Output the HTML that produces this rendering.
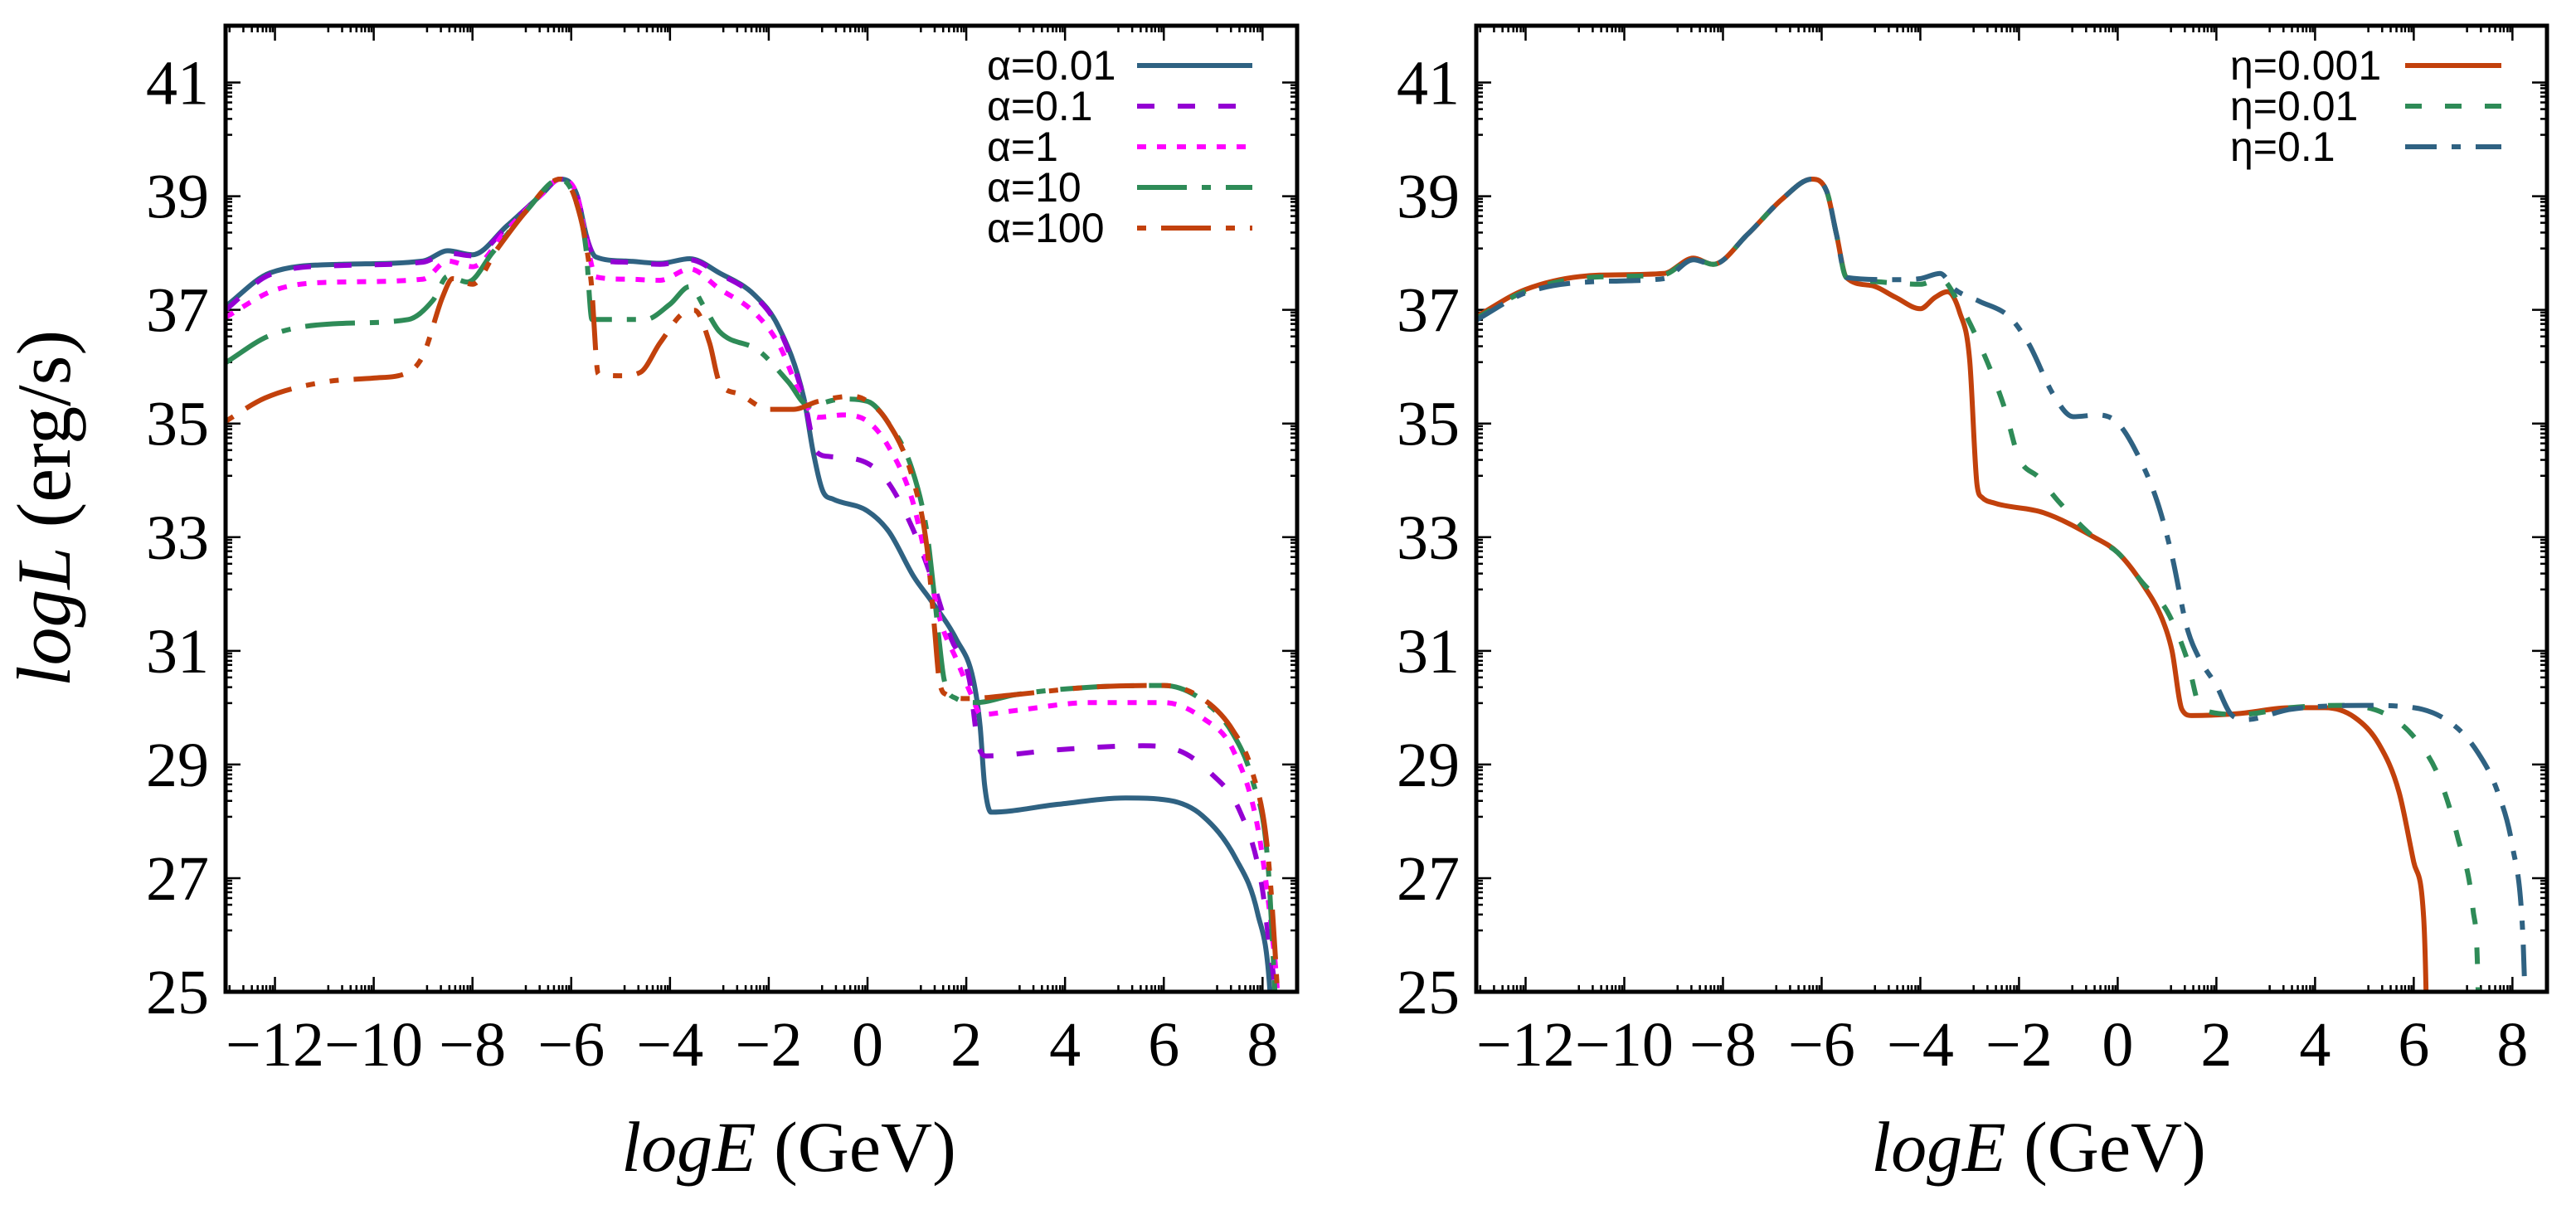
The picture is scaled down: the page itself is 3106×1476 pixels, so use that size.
<!DOCTYPE html>
<html><head><meta charset="utf-8"><style>
html,body{margin:0;padding:0;background:#fff;}
svg{display:block;}
</style></head><body>
<svg id="fig" width="3106" height="1476" viewBox="0 0 3106 1476" xmlns="http://www.w3.org/2000/svg">
<rect width="3106" height="1476" fill="#fff"/>
<g id="left"></g>
<g id="right"></g>
<text transform="translate(84,613) rotate(-90)" text-anchor="middle" font-family="Liberation Serif, serif" font-size="92"><tspan font-style="italic">logL</tspan> (erg/s)</text>
<text x="951" y="1412" text-anchor="middle" font-family="Liberation Serif, serif" font-size="86"><tspan font-style="italic">logE</tspan> (GeV)</text>
<text x="2458" y="1412" text-anchor="middle" font-family="Liberation Serif, serif" font-size="86"><tspan font-style="italic">logE</tspan> (GeV)</text>
</svg>
<script>
// ---- data ----
const xTickLabels = [-12,-10,-8,-6,-4,-2,0,2,4,6,8];
const yTickLabels = [25,27,29,31,33,35,37,39,41];
const alphaNames = ["α=0.01","α=0.1","α=1","α=10","α=100"];
const etaNames = ["η=0.001","η=0.01","η=0.1"];
const a001X = [-13,-12.1,-10.7,-9,-8.5,-8,-7.3,-6.6,-6.23,-5.9,-5.66,-5.5,-4.9,-4.2,-3.6,-3,-2.3,-1.8,-1.29,-1.1,-0.9,-0.7,0,0.43,0.94,1.29,1.8,2.14,2.28,2.37,2.5,3.86,5.23,6.1,6.78,7.46,7.9,8.15,8.2];
const a001Y = [37.06,37.65,37.8,37.86,38.04,37.97,38.48,39.03,39.3,39.06,38.2,37.93,37.86,37.82,37.9,37.65,37.27,36.7,35.45,34.5,33.8,33.67,33.46,33.1,32.3,31.88,31.2,30.5,29.67,28.65,28.16,28.3,28.41,28.37,28.1,27.34,26.38,25,24];
const a01X = [-13,-12.1,-10.7,-9,-8.5,-8,-7.3,-6.6,-6.23,-5.9,-5.66,-5.5,-4.9,-4.2,-3.6,-3,-2.3,-1.8,-1.29,-1.03,-0.77,0,0.43,0.94,1.29,1.7,2.06,2.23,2.4,3.86,5.57,6.26,6.95,7.55,7.98,8.15,8.25,8.3];
const a01Y = [37.0,37.62,37.78,37.84,38.0,37.95,38.46,39.03,39.3,39.06,38.2,37.9,37.84,37.8,37.88,37.63,37.25,36.68,35.45,34.5,34.42,34.3,33.95,33.1,32.3,31.2,30.5,29.4,29.15,29.26,29.33,29.26,28.85,28.16,26.9,25.7,25,24];
const a1X = [-13,-12,-10.7,-9,-8.5,-8,-7.3,-6.6,-6.23,-5.9,-5.66,-5.5,-4.9,-4.2,-3.6,-3,-2.3,-1.8,-1.29,-1,-0.5,0,0.4,0.9,1.2,1.5,1.8,2.1,2.3,3,4.5,6,6.8,7.4,7.9,8.2,8.3,8.35];
const a1Y = [36.87,37.35,37.49,37.54,37.86,37.76,38.41,39.03,39.3,39.06,38.07,37.58,37.54,37.52,37.72,37.37,36.96,36.4,35.39,35.11,35.15,35.04,34.63,33.67,32.57,31.46,30.85,30.23,29.88,29.95,30.09,30.09,29.81,29.26,27.9,25.96,25,24];
const a10X = [-13,-12.1,-10.7,-9.3,-8.8,-8.5,-8.1,-7.6,-6.9,-6.23,-5.9,-5.7,-5.58,-5.3,-4.5,-4,-3.6,-3.3,-3,-2.2,-1.6,-1.2,-0.5,0,0.4,0.9,1.2,1.35,1.45,1.55,1.8,2.2,3,4.5,6,6.8,7.4,7.8,8.1,8.25,8.3];
const a10Y = [36.07,36.55,36.76,36.83,37.17,37.59,37.49,38.0,38.75,39.3,38.9,38.07,36.83,36.83,36.83,37.1,37.41,37.04,36.62,36.28,35.73,35.32,35.43,35.39,35.04,34.2,33.1,32.0,31.19,30.5,30.16,30.09,30.23,30.36,30.39,30.12,29.54,28.71,27.34,25,24];
const a100X = [-13,-12.2,-11,-10,-9.3,-9,-8.6,-8.4,-8,-7.5,-6.9,-6.23,-5.9,-5.6,-5.45,-5,-4.6,-4.2,-3.7,-3.5,-3.2,-3,-2.6,-2,-1.5,-1,-0.3,0,0.4,0.9,1.2,1.35,1.45,1.6,2,3,4.5,6,6.8,7.4,7.8,8.1,8.3,8.35];
const a100Y = [35.04,35.45,35.73,35.8,35.9,36.2,37.24,37.55,37.45,38.07,38.75,39.3,38.9,37.52,35.87,35.84,35.9,36.42,36.96,36.99,36.42,35.73,35.52,35.25,35.25,35.39,35.48,35.39,35.04,34.08,32.84,31.46,30.5,30.23,30.16,30.23,30.36,30.39,30.15,29.6,28.85,27.5,25,24];
const e0001X = [-13,-12,-10.5,-9.2,-8.6,-8.2,-7.5,-6.8,-6.2,-5.9,-5.7,-5.5,-5,-4.5,-4,-3.7,-3.45,-3.2,-3,-2.85,-2.75,-2.5,-1.5,-0.5,0,0.5,0.9,1.1,1.3,1.5,2.5,3.5,4.2,4.8,5.3,5.7,6,6.2,6.25,6.27];
const e0001Y = [36.88,37.36,37.61,37.64,37.91,37.8,38.33,38.95,39.3,39.09,38.33,37.57,37.43,37.22,37.02,37.22,37.32,36.95,36.12,33.91,33.7,33.6,33.43,33.01,32.73,32.18,31.56,31.0,29.97,29.86,29.9,30.0,30.0,29.83,29.35,28.52,27.28,26.31,25,24];
const e001X = [-13,-12,-10.5,-9.2,-8.6,-8.2,-7.5,-6.8,-6.2,-5.9,-5.7,-5.5,-5,-4.5,-4,-3.6,-3.2,-2.8,-2.3,-2,-1.6,-1.2,-0.5,0,0.5,1,1.4,1.7,2.5,3.5,4.5,5.4,6,6.5,6.9,7.2,7.3,7.32];
const e001Y = [36.85,37.33,37.58,37.62,37.9,37.8,38.33,38.95,39.3,39.09,38.33,37.57,37.5,37.47,37.45,37.55,37.09,36.4,35.29,34.39,34.05,33.63,33.01,32.73,32.2,31.7,30.87,29.97,29.88,30.0,30.04,29.9,29.49,28.8,27.69,26.45,25.2,24];
const e01X = [-13,-12,-10.5,-9.2,-8.6,-8.2,-7.5,-6.8,-6.2,-5.9,-5.7,-5.5,-4.5,-4,-3.6,-3.3,-2.8,-2.2,-1.8,-1.3,-0.9,-0.4,0,0.4,0.8,1.1,1.4,1.65,2,2.3,2.6,3.5,5,6,6.8,7.3,7.7,8,8.2,8.25,8.27];
const e01Y = [36.82,37.3,37.5,37.55,37.88,37.8,38.33,38.95,39.3,39.09,38.33,37.57,37.53,37.55,37.64,37.36,37.15,36.88,36.4,35.5,35.12,35.15,35.01,34.46,33.63,32.67,31.42,30.87,30.39,29.88,29.79,29.97,30.04,30.0,29.7,29.21,28.52,27.56,26.17,25,24];

// ---- layout ----
const NS = "http://www.w3.org/2000/svg";
const Y0 = 31, Y1 = 1196, XMIN = -13, XMAX = 8.7, YMIN = 25, YMAX = 42;
const minorF = [0.54,0.68,0.766,0.825,0.876,0.912,0.95,0.977];
function mk(tag, attrs, parent){ const e = document.createElementNS(NS, tag); for (const k in attrs) e.setAttribute(k, attrs[k]); parent.appendChild(e); return e; }

// monotone cubic path through pixel points
function monoPath(P){
  const n = P.length, d = [], m = [];
  for (let i = 0; i < n - 1; i++) d.push((P[i+1][1] - P[i][1]) / (P[i+1][0] - P[i][0]));
  m[0] = d[0]; m[n-1] = d[n-2];
  for (let i = 1; i < n - 1; i++) m[i] = (d[i-1] * d[i] <= 0) ? 0 : (d[i-1] + d[i]) / 2;
  for (let i = 0; i < n - 1; i++) {
    if (d[i] === 0) { m[i] = 0; m[i+1] = 0; continue; }
    const a = m[i] / d[i], b = m[i+1] / d[i], s = a*a + b*b;
    if (s > 9) { const t = 3 / Math.sqrt(s); m[i] = t*a*d[i]; m[i+1] = t*b*d[i]; }
  }
  let s = 'M' + P[0][0].toFixed(1) + ',' + P[0][1].toFixed(1);
  for (let i = 0; i < n - 1; i++) {
    const h = (P[i+1][0] - P[i][0]) / 3;
    s += ' C' + (P[i][0] + h).toFixed(1) + ',' + (P[i][1] + m[i]*h).toFixed(1) + ' ' +
         (P[i+1][0] - h).toFixed(1) + ',' + (P[i+1][1] - m[i+1]*h).toFixed(1) + ' ' +
         P[i+1][0].toFixed(1) + ',' + P[i+1][1].toFixed(1);
  }
  return s;
}

function panel(g, L, R, series, names, legTextX, legLineX0, legLineX1, id){
  const sx = v => L + (v - XMIN) / (XMAX - XMIN) * (R - L);
  const sy = v => Y1 - (v - YMIN) / (YMAX - YMIN) * (Y1 - Y0);
  const clip = mk('clipPath', {id: 'clip' + id}, g);
  mk('rect', {x: L, y: Y0, width: R - L, height: Y1 - Y0}, clip);
  const tg = mk('g', {stroke: '#000', 'stroke-width': 2.5}, g);
  
  
  for (let v = -14; v <= 8; v += 2) {
    const pos = [[v, 18]].concat(minorF.map(f => [v + 2 * f, 8]));
    pos.forEach(([xv, len]) => {
      if (xv < XMIN || xv > XMAX) return;
      const px = sx(xv);
      mk('line', {x1: px, y1: Y1, x2: px, y2: Y1 - len}, tg);
      mk('line', {x1: px, y1: Y0, x2: px, y2: Y0 + len}, tg);
    });
  }
  for (let v = 23; v <= 41; v += 2) {
    const pos = [[v, 18]].concat(minorF.map(f => [v + 2 * f, 8]));
    pos.forEach(([yv, len]) => {
      if (yv < YMIN || yv > YMAX) return;
      const py = sy(yv);
      mk('line', {x1: L, y1: py, x2: L + len, y2: py}, tg);
      mk('line', {x1: R, y1: py, x2: R - len, y2: py}, tg);
    });
  }
  xTickLabels.forEach(v => {
    const t = mk('text', {x: sx(v), y: 1285, 'text-anchor': 'middle', 'font-family': 'Liberation Serif, serif', 'font-size': 76}, g);
    
    
    t.textContent = v < 0 ? '\u2212' + (-v) : String(v);
  });
  yTickLabels.forEach(v => {
    const t = mk('text', {x: L - 20, y: sy(v) + 26, 'text-anchor': 'end', 'font-family': 'Liberation Serif, serif', 'font-size': 76}, g);
    
    
    t.textContent = String(v);
  });
  const cg = mk('g', {'clip-path': 'url(#clip' + id + ')'}, g);
  series.forEach((s, i) => {
    const P = s.x.map((xv, k) => [sx(xv), sy(s.y[k])]);
    const p = mk('path', {d: monoPath(P), fill: 'none', stroke: s.c, 'stroke-width': 6, 'stroke-linejoin': 'round', 'stroke-dasharray': s.d}, cg);
    
    
    const ly = 79 + 49 * i;
    const t = mk('text', {x: legTextX, y: ly + 17, 'font-family': 'Liberation Sans, sans-serif', 'font-size': 50}, g);
    
    
    t.textContent = names[i];
    const l = mk('line', {x1: legLineX0, y1: ly, x2: legLineX1, y2: ly, stroke: s.c, 'stroke-width': 6, 'stroke-dasharray': s.d}, g);
    
    
  });
  const fr = mk('rect', {x: L, y: Y0, width: R - L, height: Y1 - Y0, fill: 'none', stroke: '#000', 'stroke-width': 5}, g);
  
  
}

const BLUE = '#2f6282', PURPLE = '#9400d3', MAG = '#ff00ff', GREEN = '#2e8b57', ORANGE = '#c2410c';
panel(document.getElementById('left'), 272, 1564, [
  {x: a001X, y: a001Y, c: BLUE, d: 'none'},
  {x: a01X, y: a01Y, c: PURPLE, d: '21 28'},
  {x: a1X, y: a1Y, c: MAG, d: '11 13'},
  {x: a10X, y: a10Y, c: GREEN, d: '60 18 11 18'},
  {x: a100X, y: a100Y, c: ORANGE, d: '11 18 60 18 11 18'}
], alphaNames, 1190, 1371, 1510, 'L');
panel(document.getElementById('right'), 1780, 3071, [
  {x: e0001X, y: e0001Y, c: ORANGE, d: 'none'},
  {x: e001X, y: e001Y, c: GREEN, d: '20 28'},
  {x: e01X, y: e01Y, c: BLUE, d: '38 18 11 18'}
], etaNames, 2689, 2900, 3016, 'R');
</script>
</body></html>
